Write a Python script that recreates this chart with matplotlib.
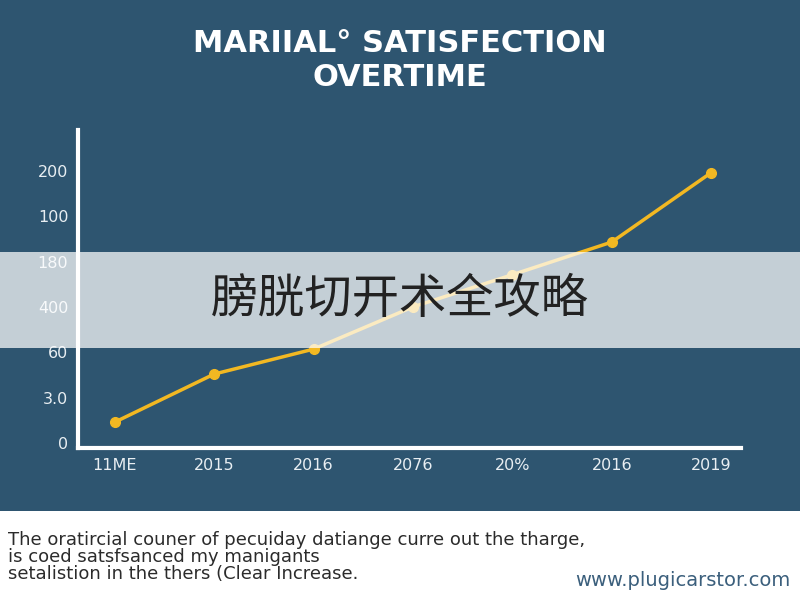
import matplotlib
matplotlib.use("Agg")
import matplotlib.pyplot as plt
from matplotlib.patches import Rectangle

# colores
bg_blue = "#2e5570"
line_gold = "#f2b822"

# datos (posiciones en unidades de marca)
x_labels = ["11ME", "2015", "2016", "2076", "20%", "2016", "2019"]
y_labels = ["0", "3.0", "60", "400", "180", "100", "200"]
satisfaction = [0.46, 1.52, 2.07, 3.0, 3.71, 4.43, 5.96]

title_lines = ["MARIIAL° SATISFECTION", "OVERTIME"]
banner_text = "膀胱切开术全攻略"
caption_lines = [
    "The oratircial couner of pecuiday datiange curre out the tharge,",
    "is coed satsfsanced my manigants",
    "setalistion in the thers (Clear Increase.",
]
url_text = "www.plugicarstor.com"

fig = plt.figure(figsize=(8, 6), dpi=100, facecolor=bg_blue)

# franja blanca inferior
fig.patches.append(Rectangle((0, 0), 1, 89 / 600, transform=fig.transFigure,
                             facecolor="white", edgecolor="none", zorder=1))

ax = fig.add_axes([78 / 800, 152 / 600, 663 / 800, 318 / 600])
ax.set_facecolor(bg_blue)
x = list(range(len(x_labels)))
ax.plot(x, satisfaction, color=line_gold, linewidth=2.5, marker="o",
        markersize=7, solid_capstyle="round")
ax.set_xlim(-0.37, 6.30)
ax.set_ylim(-0.11, 6.9)
ax.set_xticks(x)
ax.set_xticklabels(x_labels)
ax.set_yticks(range(len(y_labels)))
ax.set_yticklabels(y_labels)
ax.tick_params(length=0, colors="#e8eef2", labelsize=11.5, pad=7)
for side in ["top", "right"]:
    ax.spines[side].set_visible(False)
for side in ["left", "bottom"]:
    ax.spines[side].set_color("white")
    ax.spines[side].set_linewidth(3)

# título
fig.text(0.5, 1 - 43 / 600, title_lines[0], ha="center", va="center",
         color="white", fontsize=22, fontweight="bold")
fig.text(0.5, 1 - 78 / 600, title_lines[1], ha="center", va="center",
         color="white", fontsize=22, fontweight="bold")

# banda gris translúcida con texto chino
fig.patches.append(Rectangle((0, 252 / 600), 1, 96 / 600, transform=fig.transFigure,
                             facecolor="white", alpha=0.72, edgecolor="none", zorder=5))
fig.text(0.5, 1 - 300 / 600, banner_text, ha="center", va="center",
         color="#222222", fontsize=34, family=["Noto Sans CJK SC", "DejaVu Sans"],
         zorder=6)

# texto inferior (un solo bloque, líneas muy juntas como en el original)
fig.text(8 / 800, 1 - 531 / 600, "\n".join(caption_lines), ha="left", va="top",
         color="#2b2b2b", fontsize=13, linespacing=0.92)
fig.text(790 / 800, 1 - 580 / 600, url_text, ha="right", va="center",
         color="#3b5f7c", fontsize=14)

fig.savefig("out.png", dpi=100, facecolor=fig.get_facecolor())
